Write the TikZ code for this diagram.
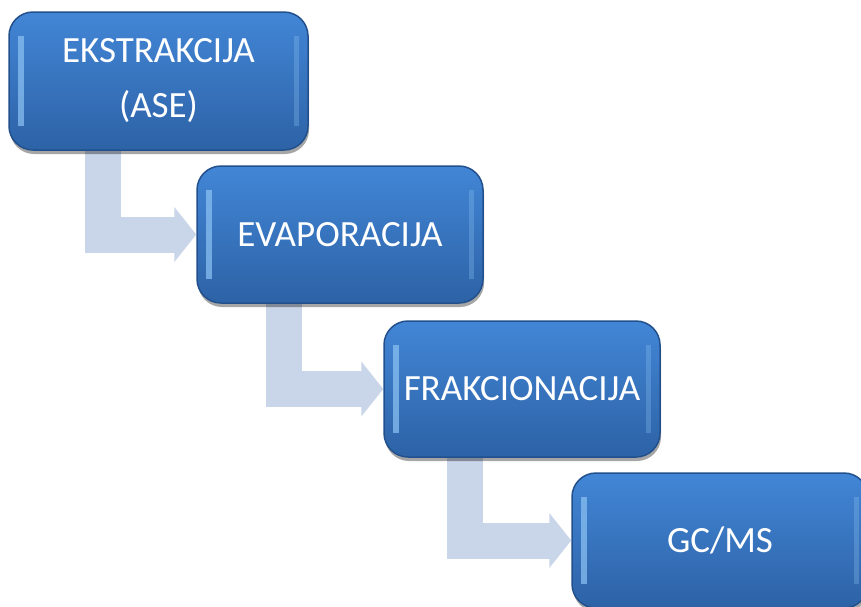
\documentclass[tikz,border=0pt]{standalone}
\usepackage{fontspec}
\setmainfont{Carlito}
\usetikzlibrary{positioning,shadows,arrows.meta,backgrounds}
\definecolor{boxtop}{HTML}{4286D6}
\definecolor{boxbot}{HTML}{2D62A6}
\definecolor{boxline}{HTML}{22508C}
\definecolor{flowcol}{HTML}{C9D5E8}
\definecolor{glint}{HTML}{8EC4F4}

\tikzset{
  stepbox/.style={rounded corners=24pt, draw=boxline, line width=1.5pt,
    top color=boxtop, bottom color=boxbot, minimum width=#1,
    text=white, align=center, font=\fontsize{37}{55}\selectfont,
    drop shadow={shadow xshift=1pt, shadow yshift=-4pt, opacity=.35, fill=black},
    path picture={
      \fill[sharp corners, glint, opacity=.7] ([xshift=9pt,yshift=-24pt]path picture bounding box.north west)
        rectangle ([xshift=15pt,yshift=24pt]path picture bounding box.south west);
      \fill[sharp corners, glint, opacity=.3] ([xshift=-9pt,yshift=-24pt]path picture bounding box.north east)
        rectangle ([xshift=-14pt,yshift=24pt]path picture bounding box.south east);
    }},
  flow/.style={draw=flowcol, line width=36pt, line join=miter,
    -{Triangle[width=54pt,length=22pt]}}
}

\begin{document}
\begin{tikzpicture}[x=1pt,y=-1pt]
  \useasboundingbox (0,0) rectangle (861,606);

  % process steps
  \node[stepbox=299pt, minimum height=138pt] (ekstr) at (158.5,81) {EKSTRAKCIJA\\(ASE)};
  \node[stepbox=286pt, minimum height=137pt] (evap)  at (340,234.5) {EVAPORACIJA};
  \node[stepbox=276pt, minimum height=136pt] (frak)  at (522,389) {FRAKCIONACIJA};
  \node[stepbox=296pt, minimum height=135pt] (gcms)  at (720,540.5) {GC/MS};

  % bent arrows behind the boxes
  \begin{scope}[on background layer]
    \fill[white] (0,0) rectangle (861,606);
    \draw[flow] ([xshift=-56pt]ekstr.south) |- (evap.west);
    \draw[flow] ([xshift=-56pt]evap.south) |- (frak.west);
    \draw[flow] ([xshift=-57pt]frak.south) |- (gcms.west);
  \end{scope}
\end{tikzpicture}
\end{document}
